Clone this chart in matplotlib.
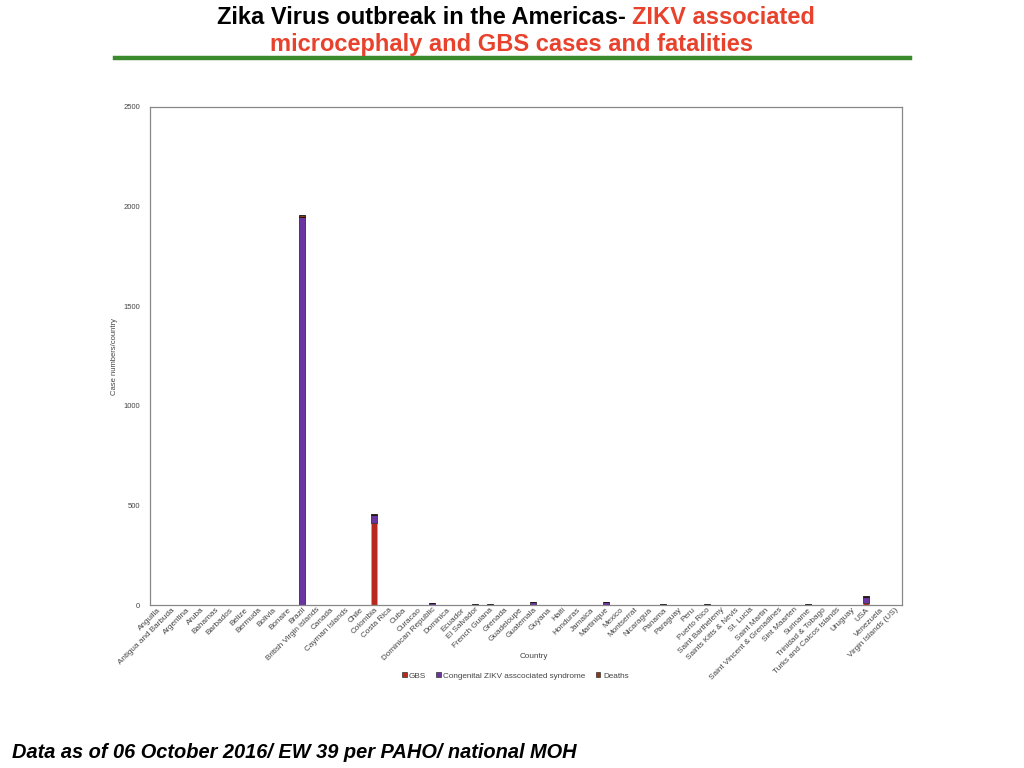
import numpy as np
import matplotlib
matplotlib.use('Agg')
import matplotlib.pyplot as plt
from matplotlib.patches import Patch

countries = ['Anguilla', 'Antigua and Barbuda', 'Argentina', 'Aruba', 'Bahamas',
             'Barbados', 'Belize', 'Bermuda', 'Bolivia', 'Bonaire', 'Brazil',
             'British Virgin islands', 'Canada', 'Cayman Islands', 'Chile',
             'Colombia', 'Costa Rica', 'Cuba', 'Curacao', 'Dominican Republic',
             'Dominica', 'Ecuador', 'El Salvador', 'French Guiana', 'Grenada',
             'Guadeloupe', 'Guatemala', 'Guyana', 'Haiti', 'Honduras', 'Jamaica',
             'Martinique', 'Mexico', 'Montserrat', 'Nicaragua', 'Panama',
             'Paraguay', 'Peru', 'Puerto Rico', 'Saint Barthelemy',
             'Saints Kitts & Nevis', 'St. Lucia', 'Saint Martin',
             'Saint Vincent & Grenadines', 'Sint Maarten', 'Suriname',
             'Trinidad & Tobago', 'Turks and Caicos Islands', 'Uruguay', 'USA',
             'Venezuela', 'Virgin Islands (US)']

# values
gbs = {'Canada': 2, 'Colombia': 412, 'Costa Rica': 2, 'Haiti': 2, 'Honduras': 2,
       'Mexico': 2, 'Paraguay': 2, 'Peru': 2, 'Sint Maarten': 2, 'USA': 9}
congenital = {'Brazil': 1948, 'Colombia': 42, 'Dominican Republic': 10,
              'Guatemala': 15, 'Martinique': 14, 'USA': 32}
deaths = {'Brazil': 9, 'Colombia': 2, 'El Salvador': 4, 'French Guiana': 5,
          'Panama': 4, 'Puerto Rico': 7, 'Suriname': 5, 'USA': 2}

yticks = [0, 500, 1000, 1500, 2000, 2500]

g = np.array([gbs.get(c, 0) for c in countries], dtype=float)
z = np.array([congenital.get(c, 0) for c in countries], dtype=float)
d = np.array([deaths.get(c, 0) for c in countries], dtype=float)

plt.rcParams['font.family'] = ['Liberation Sans', 'DejaVu Sans']

fig = plt.figure(figsize=(10.24, 7.68), dpi=100)
ax = fig.add_axes([0.1465, 0.2122, 0.7344, 0.6485])

x = np.arange(len(countries))
w = 0.42
ax.bar(x, g, w, color='#B8281E', edgecolor='#aaaaaa', linewidth=0.6, label='GBS')
ax.bar(x, z, w, bottom=g, color='#6A35A0', edgecolor='#333333', linewidth=0.6,
       label='Congenital ZIKV asscociated syndrome')
ax.bar(x, d, w, bottom=g + z, color='#8B3A12', edgecolor='#111111', linewidth=0.6,
       label='Deaths')

ax.set_xlim(-0.5, len(countries) - 0.5)
ax.set_ylim(0, 2500)
ax.set_yticks(yticks)
ax.set_yticklabels([str(t) for t in yticks], fontsize=5.5, color='#444444')
ax.tick_params(axis='y', length=0, pad=7)
ax.tick_params(axis='x', length=0, pad=1)
ax.set_xticks(x)
ax.set_xticklabels(countries, rotation=45, ha='right', rotation_mode='anchor',
                   fontsize=5.9, color='#444444')
for s in ax.spines.values():
    s.set_color('#888888')
    s.set_linewidth(0.9)
ax.set_ylabel('Case numbers/country', fontsize=5.5, color='#444444', labelpad=4)
fig.text(534 / 1024, 1 - 657 / 768, 'Country', ha='center', va='center',
         fontsize=5.9, color='#444444')

handles = [Patch(facecolor='#B8281E', edgecolor='#333333', linewidth=0.5),
           Patch(facecolor='#6A35A0', edgecolor='#333333', linewidth=0.5),
           Patch(facecolor='#8B3A12', edgecolor='#333333', linewidth=0.5)]
fig.legend(handles, ['GBS', 'Congenital ZIKV asscociated syndrome', 'Deaths'],
           loc='center', bbox_to_anchor=(0.503, 1 - 676 / 768), ncol=3, frameon=False,
           fontsize=5.9, handlelength=0.6, handleheight=0.6, handletextpad=0.3,
           columnspacing=1.2, labelcolor='#444444')

# title
tfont = dict(fontsize=17, fontweight='bold')
fig.text(626 / 1024, 1 - 17 / 768, 'Zika Virus outbreak in the Americas-', ha='right',
         va='center', color='black', **tfont)
fig.text(632 / 1024, 1 - 17 / 768, 'ZIKV associated', ha='left', va='center',
         color='#E8412C', **tfont)
fig.text(512 / 1024, 1 - 45 / 768, 'microcephaly and GBS cases and fatalities',
         ha='center', va='center', color='#E8412C', **tfont)
fig.add_artist(plt.Line2D([115 / 1024, 910 / 1024], [1 - 58 / 768, 1 - 58 / 768],
                          color='#3C8A2E', linewidth=3.2, transform=fig.transFigure))

fig.text(12 / 1024, 1 - 752 / 768, 'Data as of 06 October 2016/ EW 39 per PAHO/ national MOH',
         ha='left', va='center', fontsize=14.4, fontweight='bold', style='italic')

fig.savefig('out.png', dpi=100)
